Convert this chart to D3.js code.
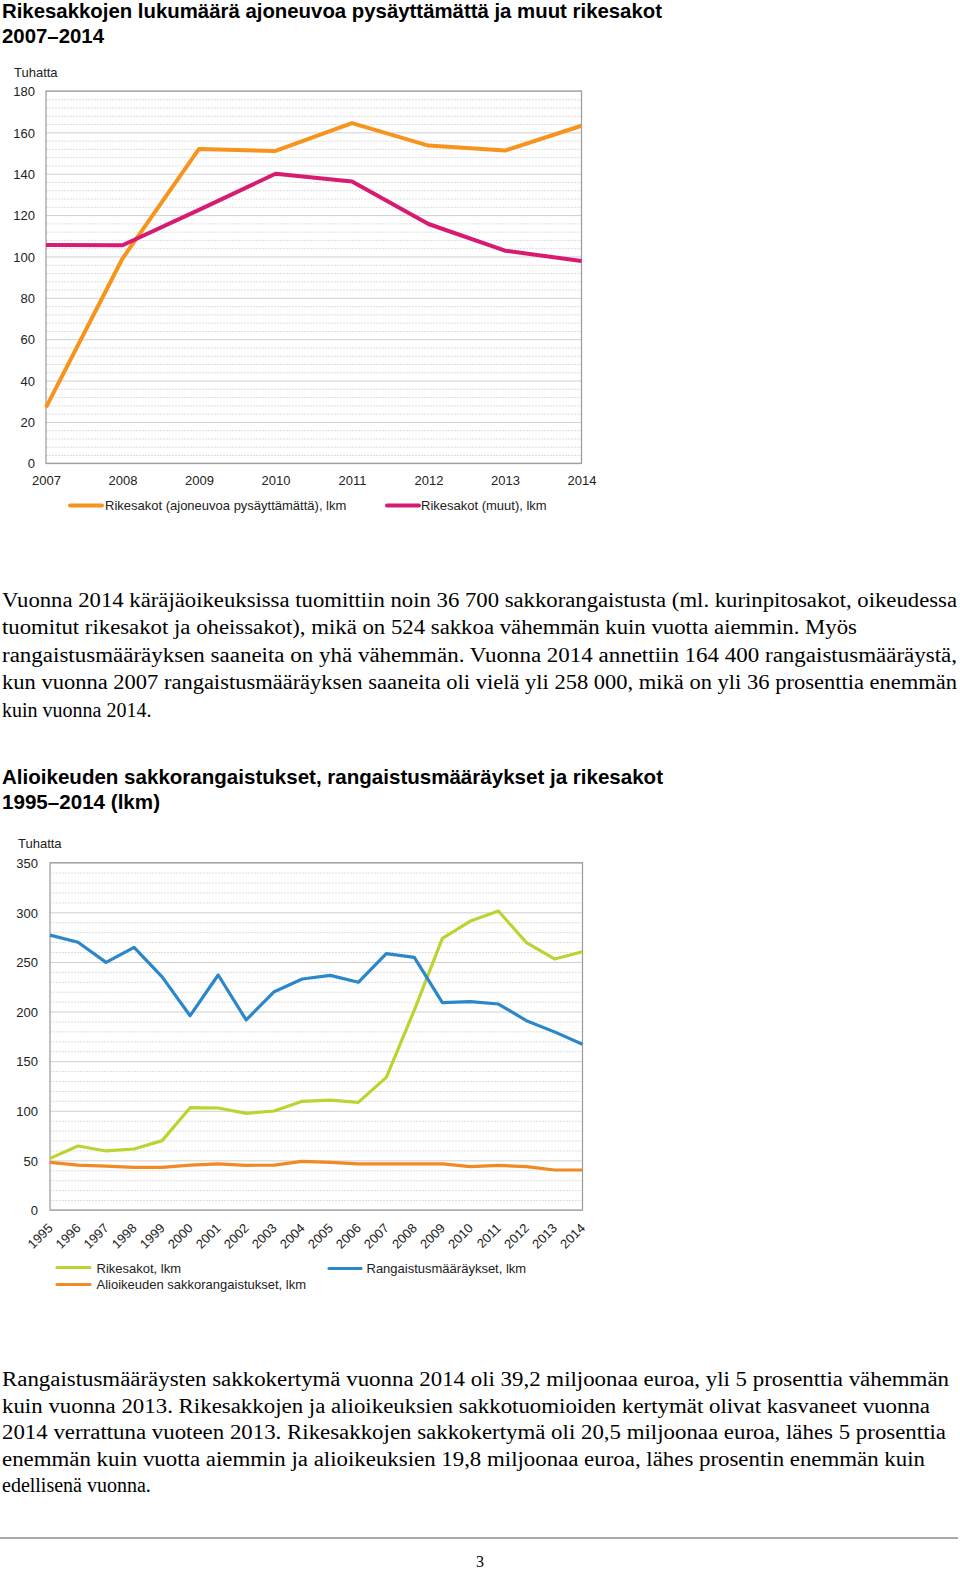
<!DOCTYPE html>
<html>
<head>
<meta charset="utf-8">
<script src="https://cdn.jsdelivr.net/npm/d3@7"></script>
<style>
  html, body { margin: 0; padding: 0; background: #fff; }
  svg { display: block; }
</style>
</head>
<body>
<script>
// ---------- DATA ----------
const years1 = [2007, 2008, 2009, 2010, 2011, 2012, 2013, 2014];
const rikesakotAjoneuvo = [27, 99, 152, 151, 164.5, 153.6, 151.2, 163.2];
const rikesakotMuut = [105.6, 105.4, 122.5, 140, 136.2, 115.7, 102.8, 97.8];
const yTicks1 = [0, 20, 40, 60, 80, 100, 120, 140, 160, 180];

const years2 = [1995, 1996, 1997, 1998, 1999, 2000, 2001, 2002, 2003, 2004,
                2005, 2006, 2007, 2008, 2009, 2010, 2011, 2012, 2013, 2014];
const rangaistusmaaraykset = [277, 269.8, 249.6, 264.7, 235, 195.8, 236.8, 191.5, 220, 232.8,
                              236.5, 229.5, 258.3, 254.6, 209, 210, 207.6, 190.8, 179.5, 167];
const rikesakot = [52, 64.5, 59.5, 61.5, 69.9, 103.1, 102.8, 97.4, 99.8, 109.5,
                   110.8, 108.5, 133.7, 201.5, 273.8, 291.2, 301.3, 269.4, 253, 260.3];
const alioikeus = [48, 45.3, 44.3, 43, 43, 45.3, 46.4, 45, 45.3, 49,
                   48, 46.4, 46.4, 46.4, 46.4, 43.7, 45, 43.7, 40.3, 40.3];
const yTicks2 = [0, 50, 100, 150, 200, 250, 300, 350];

const title1 = ["Rikesakkojen lukumäärä ajoneuvoa pysäyttämättä ja muut rikesakot", "2007–2014"];
const title2 = ["Alioikeuden sakkorangaistukset, rangaistusmääräykset ja rikesakot", "1995–2014 (lkm)"];
const legend1 = ["Rikesakot (ajoneuvoa pysäyttämättä), lkm", "Rikesakot (muut), lkm"];
const legend2 = ["Rikesakot, lkm", "Alioikeuden sakkorangaistukset, lkm", "Rangaistusmääräykset, lkm"];
const para1 = [
  "Vuonna 2014 käräjäoikeuksissa tuomittiin noin 36 700 sakkorangaistusta (ml. kurinpitosakot, oikeudessa",
  "tuomitut rikesakot ja oheissakot), mikä on 524 sakkoa vähemmän kuin vuotta aiemmin. Myös",
  "rangaistusmääräyksen saaneita on yhä vähemmän. Vuonna 2014 annettiin 164 400 rangaistusmääräystä,",
  "kun vuonna 2007 rangaistusmääräyksen saaneita oli vielä yli 258 000, mikä on yli 36 prosenttia enemmän",
  "kuin vuonna 2014."
];
const para2 = [
  "Rangaistusmääräysten sakkokertymä vuonna 2014 oli 39,2 miljoonaa euroa, yli 5 prosenttia vähemmän",
  "kuin vuonna 2013. Rikesakkojen ja alioikeuksien sakkotuomioiden kertymät olivat kasvaneet vuonna",
  "2014 verrattuna vuoteen 2013. Rikesakkojen sakkokertymä oli 20,5 miljoonaa euroa, lähes 5 prosenttia",
  "enemmän kuin vuotta aiemmin ja alioikeuksien 19,8 miljoonaa euroa, lähes prosentin enemmän kuin",
  "edellisenä vuonna."
];

// ---------- LAYOUT ----------
const W = 960, H = 1572;
const svg = d3.select("body").append("svg").attr("width", W).attr("height", H);
const sans = "'Liberation Sans', Arial, sans-serif";
const serif = "'Liberation Serif', 'Times New Roman', serif";

function title(lines, y0, widths) {
  lines.forEach((t, i) => {
    svg.append("text").attr("x", 2).attr("y", y0 + i * 25)
      .attr("font-family", sans).attr("font-weight", "bold").attr("font-size", 21)
      .attr("textLength", widths[i]).attr("lengthAdjust", "spacingAndGlyphs")
      .attr("fill", "#000").text(t);
  });
}

function paragraph(lines, y0, lh, widths) {
  lines.forEach((t, i) => {
    const el = svg.append("text").attr("x", 2).attr("y", y0 + i * lh)
      .attr("font-family", serif).attr("font-size", 20).attr("fill", "#000").text(t);
    if (widths[i]) el.attr("textLength", widths[i]).attr("lengthAdjust", "spacingAndGlyphs");
  });
}

function chart(cfg) {
  const g = svg.append("g");
  const x = d3.scaleLinear().domain(d3.extent(cfg.years)).range([cfg.left, cfg.right]);
  const y = d3.scaleLinear().domain([0, cfg.max]).range([cfg.bottom, cfg.top]);

  // minor grid
  const minor = d3.range(0, cfg.max + 1e-9, cfg.max / (cfg.ticks.length - 1) / 5)
    .filter(v => !cfg.ticks.some(t => Math.abs(t - v) < 1e-6));
  g.append("g").attr("transform", `translate(${cfg.left},0)`)
    .call(d3.axisLeft(y).tickValues(minor).tickSize(-(cfg.right - cfg.left)).tickFormat(""))
    .call(a => a.select(".domain").remove())
    .call(a => a.selectAll("line").attr("stroke", "#dedede").attr("stroke-dasharray", "2,1"));
  // major grid
  g.append("g").attr("transform", `translate(${cfg.left},0)`)
    .call(d3.axisLeft(y).tickValues(cfg.ticks).tickSize(-(cfg.right - cfg.left)).tickFormat(""))
    .call(a => a.select(".domain").remove())
    .call(a => a.selectAll("line").attr("stroke", "#cfcfcf"));

  // frame
  g.append("rect").attr("x", cfg.left).attr("y", cfg.top)
    .attr("width", cfg.right - cfg.left).attr("height", cfg.bottom - cfg.top)
    .attr("fill", "none").attr("stroke", "#9a9a9a").attr("stroke-width", 1.2);

  // y labels
  const ya = g.append("g").attr("transform", `translate(${cfg.labelRight},0)`)
    .call(d3.axisLeft(y).tickValues(cfg.ticks).tickSize(0).tickPadding(0))
    .call(a => a.select(".domain").remove());
  ya.selectAll("text").attr("font-family", sans).attr("font-size", 13).attr("fill", "#222")
    .attr("dy", "0.36em");

  g.append("text").attr("x", cfg.unitX).attr("y", cfg.unitY)
    .attr("font-family", sans).attr("font-size", 13).attr("fill", "#222").text("Tuhatta");

  // x labels
  const xa = g.append("g").attr("transform", `translate(0,${cfg.bottom})`)
    .call(d3.axisBottom(x).tickValues(cfg.years).tickFormat(d3.format("d")).tickSize(0).tickPadding(0))
    .call(a => a.select(".domain").remove());
  xa.selectAll("text").attr("font-family", sans).attr("font-size", 13).attr("fill", "#222");
  if (cfg.rotate) {
    xa.selectAll("text").attr("text-anchor", "end").attr("dy", null).attr("y", null)
      .attr("transform", `translate(3,${cfg.xLabelY - cfg.bottom}) rotate(-45)`);
  } else {
    xa.selectAll("text").attr("dy", null).attr("y", cfg.xLabelY - cfg.bottom);
  }

  // lines
  const line = d3.line().x((d, i) => x(cfg.years[i])).y(d => y(d));
  cfg.series.forEach(s => {
    g.append("path").datum(s.values).attr("d", line)
      .attr("fill", "none").attr("stroke", s.color).attr("stroke-width", cfg.lw)
      .attr("stroke-linejoin", "round");
  });

  // legend
  cfg.legend.forEach(l => {
    g.append("line").attr("x1", l.x1).attr("x2", l.x2).attr("y1", l.ly).attr("y2", l.ly)
      .attr("stroke", l.color).attr("stroke-width", cfg.lw).attr("stroke-linecap", "round");
    g.append("text").attr("x", l.tx).attr("y", l.ty)
      .attr("font-family", sans).attr("font-size", 13).attr("fill", "#222").text(l.text);
  });
}

// ---------- TOP ----------
title(title1, 18, [660, 102]);

chart({
  years: years1, max: 180, ticks: yTicks1,
  left: 46, right: 581.5, top: 91, bottom: 463.3,
  labelRight: 35, unitX: 14, unitY: 76.5, xLabelY: 485, rotate: false, lw: 4,
  series: [
    { values: rikesakotAjoneuvo, color: "#f7941d" },
    { values: rikesakotMuut, color: "#d81b72" }
  ],
  legend: [
    { x1: 70, x2: 102, ly: 505.5, tx: 105, ty: 509.5, color: "#f7941d", text: legend1[0] },
    { x1: 387, x2: 419, ly: 505.5, tx: 421, ty: 509.5, color: "#d81b72", text: legend1[1] }
  ]
});

paragraph(para1, 606.5, 27.5, [955, 855, 955, 955, null]);

// ---------- SECOND ----------
title(title2, 784, [661, 158]);

chart({
  years: years2, max: 350, ticks: yTicks2,
  left: 50, right: 582.5, top: 862.7, bottom: 1210,
  labelRight: 38, unitX: 18, unitY: 848, xLabelY: 1229, rotate: true, lw: 3.2,
  series: [
    { values: alioikeus, color: "#f08a24" },
    { values: rikesakot, color: "#bcd431" },
    { values: rangaistusmaaraykset, color: "#2b87c9" }
  ],
  legend: [
    { x1: 57, x2: 90, ly: 1267.5, tx: 96.5, ty: 1272.5, color: "#bcd431", text: legend2[0] },
    { x1: 57, x2: 90, ly: 1284.5, tx: 96.5, ty: 1289, color: "#f08a24", text: legend2[1] },
    { x1: 329, x2: 361, ly: 1268.5, tx: 366.5, ty: 1272.5, color: "#2b87c9", text: legend2[2] }
  ]
});

paragraph(para2, 1386, 26.5, [947, 928, 944, 923, null]);

svg.append("line").attr("x1", 0).attr("x2", 958).attr("y1", 1538).attr("y2", 1538)
  .attr("stroke", "#8c8c8c").attr("stroke-width", 1.5);
svg.append("text").attr("x", 480).attr("y", 1567).attr("text-anchor", "middle")
  .attr("font-family", serif).attr("font-size", 16).attr("fill", "#000").text("3");
</script>
</body>
</html>
